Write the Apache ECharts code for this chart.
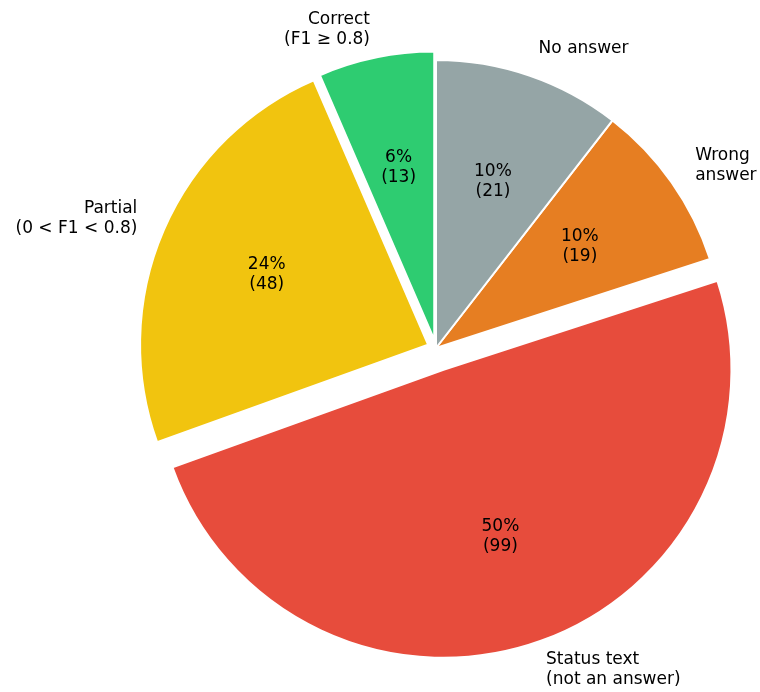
<!DOCTYPE html>
<html>
<head>
<meta charset="utf-8">
<script src="https://cdn.jsdelivr.net/npm/echarts@6/dist/echarts.min.js"></script>
<style>
html,body{margin:0;padding:0;background:#fff;}
#chart{width:760px;height:692px;}
</style>
</head>
<body>
<div id="chart"></div>
<script>
// Data (order: counterclockwise from 12 o'clock)
const categories = ['Correct\n(F1 \u2265 0.8)', 'Partial\n(0 < F1 < 0.8)', 'Status text\n(not an answer)', 'Wrong\nanswer', 'No answer'];
const counts = [13, 48, 99, 19, 21];
const explode = [0.03, 0.03, 0.08, 0, 0];
const colors = ['#2ecc71', '#f1c40f', '#e74c3c', '#e67e22', '#95a5a6'];

const R = 288;
const CENTER = [436, 348];
const FONT = 'DejaVu Sans';

function roundHalfEven(p) {
  const f = Math.floor(p);
  const diff = p - f;
  if (Math.abs(diff - 0.5) < 1e-9) return (f % 2 === 0) ? f : f + 1;
  return Math.round(p);
}

const series = [];
categories.forEach((cat, i) => {
  // slice + outside label
  series.push({
    type: 'pie',
    center: CENTER,
    radius: R,
    startAngle: 90,
    clockwise: false,
    selectedMode: 'multiple',
    selectedOffset: explode[i] * R,
    avoidLabelOverlap: false,
    animation: false,
    silent: true,
    z: 2,
    emphasis: { disabled: true },
    label: {
      position: 'outside',
      fontFamily: FONT,
      fontSize: 17,
      lineHeight: 20,
      color: '#000',
      distanceToLabelLine: 0,
      formatter: '{b}'
    },
    labelLine: { show: false, length: 0.1 * R, length2: 0 },
    data: counts.map((v, j) => ({
      name: categories[j],
      value: v,
      selected: j === i,
      itemStyle: j === i
        ? { color: colors[j], borderColor: '#ffffff', borderWidth: 2 }
        : { color: 'rgba(0,0,0,0)', borderWidth: 0 },
      label: { show: j === i }
    }))
  });
  // inside percentage label
  series.push({
    type: 'pie',
    center: CENTER,
    radius: [0.2 * R, R],
    startAngle: 90,
    clockwise: false,
    selectedMode: 'multiple',
    selectedOffset: explode[i] * R,
    avoidLabelOverlap: false,
    animation: false,
    silent: true,
    z: 3,
    emphasis: { disabled: true },
    label: {
      position: 'inside',
      fontFamily: FONT,
      fontSize: 17,
      lineHeight: 20,
      color: '#000',
      formatter: p => roundHalfEven(p.percent) + '%\n(' + p.value + ')'
    },
    labelLine: { show: false },
    data: counts.map((v, j) => ({
      name: categories[j],
      value: v,
      selected: j === i,
      itemStyle: { color: 'rgba(0,0,0,0)', borderWidth: 0 },
      label: { show: j === i }
    }))
  });
});

const chart = echarts.init(document.getElementById('chart'), null, { renderer: 'canvas' });
chart.setOption({
  backgroundColor: '#ffffff',
  animation: false,
  tooltip: { show: false },
  series: series
});
</script>
</body>
</html>
